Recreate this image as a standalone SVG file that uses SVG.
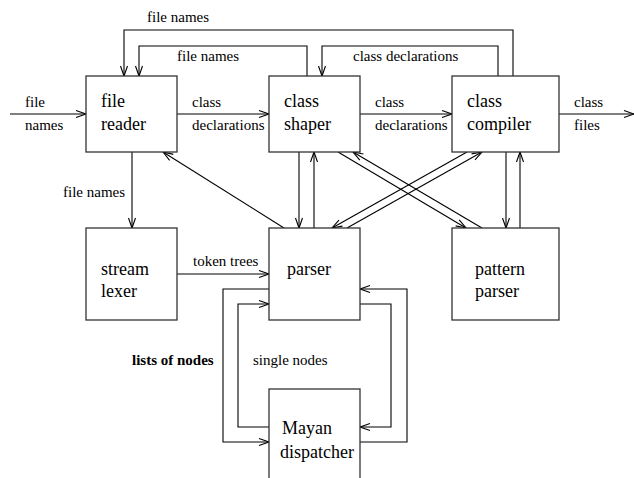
<svg xmlns="http://www.w3.org/2000/svg" width="634" height="478" viewBox="0 0 634 478">
<style>
.box{fill:#fff;stroke:#333;stroke-width:1.3}
.bl{font-family:"Liberation Serif","Times New Roman",serif;font-size:18px;fill:#000}
.lb{font-family:"Liberation Serif","Times New Roman",serif;font-size:15px;fill:#000}
.c{fill:none;stroke:#000;stroke-width:1.1}
</style>
<defs>
<marker id="ah" markerUnits="userSpaceOnUse" markerWidth="14" markerHeight="10" refX="11" refY="4" orient="auto" overflow="visible">
<path d="M1,0.5 L11,4 L1,7.5" fill="none" stroke="#000" stroke-width="1.1"/>
</marker>
</defs>
<rect width="634" height="478" fill="#fff"/>
<g id="connectors">
<line class="c" x1="10" y1="114" x2="86" y2="114" marker-end="url(#ah)"/>
<line class="c" x1="177" y1="114" x2="269" y2="114" marker-end="url(#ah)"/>
<line class="c" x1="360" y1="114" x2="452" y2="114" marker-end="url(#ah)"/>
<line class="c" x1="559" y1="114" x2="634" y2="114" marker-end="url(#ah)"/>
<polyline class="c" points="513,76 513,30 124,30 124,76" marker-end="url(#ah)"/>
<polyline class="c" points="307,76 307,46 139,46 139,76" marker-end="url(#ah)"/>
<polyline class="c" points="498,76 498,46 322,46 322,76" marker-end="url(#ah)"/>
<line class="c" x1="132" y1="152" x2="132" y2="228" marker-end="url(#ah)"/>
<line class="c" x1="177" y1="274" x2="269" y2="274" marker-end="url(#ah)"/>
<line class="c" x1="284" y1="228" x2="163" y2="152" marker-end="url(#ah)"/>
<line class="c" x1="299" y1="152" x2="299" y2="228" marker-end="url(#ah)"/>
<line class="c" x1="314" y1="228" x2="314" y2="152" marker-end="url(#ah)"/>
<line class="c" x1="506" y1="152" x2="506" y2="228" marker-end="url(#ah)"/>
<line class="c" x1="520" y1="228" x2="520" y2="152" marker-end="url(#ah)"/>
<line class="c" x1="338" y1="152" x2="466" y2="228" marker-end="url(#ah)"/>
<line class="c" x1="482" y1="228" x2="353" y2="152" marker-end="url(#ah)"/>
<line class="c" x1="467" y1="152" x2="332" y2="228" marker-end="url(#ah)"/>
<line class="c" x1="347" y1="228" x2="482" y2="152" marker-end="url(#ah)"/>
<polyline class="c" points="269,289 223,289 223,442 269,442" marker-end="url(#ah)"/>
<polyline class="c" points="269,427 238,427 238,304 269,304" marker-end="url(#ah)"/>
<polyline class="c" points="360,304 391,304 391,427 360,427" marker-end="url(#ah)"/>
<polyline class="c" points="360,442 407,442 407,289 360,289" marker-end="url(#ah)"/>
</g>
<g id="labels">
<text class="lb" x="25" y="107">file</text>
<text class="lb" x="25" y="130">names</text>
<text class="lb" x="192" y="107">class</text>
<text class="lb" x="192" y="130">declarations</text>
<text class="lb" x="375" y="107">class</text>
<text class="lb" x="375" y="130">declarations</text>
<text class="lb" x="574" y="107">class</text>
<text class="lb" x="574" y="130">files</text>
<text class="lb" x="147" y="22">file names</text>
<text class="lb" x="177" y="61">file names</text>
<text class="lb" x="353" y="61">class declarations</text>
<text class="lb" x="63" y="197">file names</text>
<text class="lb" x="193" y="266">token trees</text>
<text class="lb" x="132" y="365" font-weight="bold">lists of nodes</text>
<text class="lb" x="253" y="365">single nodes</text>
</g>
<g id="file-reader">
<rect class="box" x="86" y="76" width="91" height="76"/>
<text class="bl" x="101" y="107">file</text>
<text class="bl" x="101" y="130">reader</text>
</g>
<g id="class-shaper">
<rect class="box" x="269" y="76" width="91" height="76"/>
<text class="bl" x="284" y="107">class</text>
<text class="bl" x="284" y="130">shaper</text>
</g>
<g id="class-compiler">
<rect class="box" x="452" y="76" width="107" height="76"/>
<text class="bl" x="467" y="107">class</text>
<text class="bl" x="467" y="130">compiler</text>
</g>
<g id="stream-lexer">
<rect class="box" x="86" y="228" width="91" height="92"/>
<text class="bl" x="101" y="275">stream</text>
<text class="bl" x="101" y="297">lexer</text>
</g>
<g id="parser">
<rect class="box" x="269" y="228" width="91" height="92"/>
<text class="bl" x="287" y="275">parser</text>
</g>
<g id="pattern-parser">
<rect class="box" x="452" y="228" width="107" height="92"/>
<text class="bl" x="475" y="275">pattern</text>
<text class="bl" x="475" y="297">parser</text>
</g>
<g id="mayan-dispatcher">
<rect class="box" x="269" y="389" width="91" height="100"/>
<text class="bl" x="282" y="434">Mayan</text>
<text class="bl" x="280" y="458">dispatcher</text>
</g>
</svg>
